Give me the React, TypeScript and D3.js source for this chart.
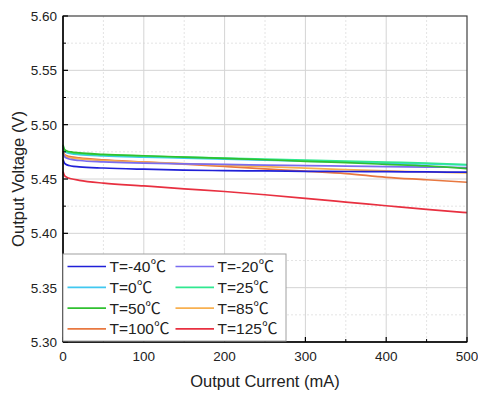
import React from "react";
import * as d3 from "d3";

const currents = [0, 2, 5, 10, 20, 50, 100, 150, 200, 250, 300, 350, 400, 450, 500];
const seriesNames = ["T=-40℃", "T=-20℃", "T=0℃", "T=25℃", "T=50℃", "T=85℃", "T=100℃", "T=125℃"];
const seriesColors = ["#2020d8", "#7a6cf0", "#40c8f0", "#30e890", "#30c030", "#f8b050", "#e87840", "#e83040"];
const vM40 = [5.468, 5.4645, 5.463, 5.462, 5.4612, 5.4601, 5.459, 5.4582, 5.4577, 5.4574, 5.4571, 5.4569, 5.4567, 5.4565, 5.4563];
const vM20 = [5.474, 5.4705, 5.469, 5.468, 5.467, 5.4657, 5.4647, 5.464, 5.4634, 5.4628, 5.4623, 5.4618, 5.4614, 5.461, 5.4606];
const v0 = [5.479, 5.4755, 5.4742, 5.4733, 5.4724, 5.4712, 5.4701, 5.4692, 5.4683, 5.4674, 5.4665, 5.4656, 5.4647, 5.4638, 5.463];
const v25 = [5.4805, 5.4765, 5.4752, 5.4743, 5.4734, 5.4722, 5.471, 5.4701, 5.4692, 5.4683, 5.4674, 5.4665, 5.4656, 5.4647, 5.4632];
const v50 = [5.4815, 5.477, 5.4758, 5.4749, 5.474, 5.4727, 5.4714, 5.4702, 5.469, 5.4677, 5.4663, 5.465, 5.4635, 5.462, 5.4595];
const v85 = [5.475, 5.4715, 5.4703, 5.4694, 5.4685, 5.467, 5.4655, 5.4642, 5.4628, 5.4614, 5.46, 5.4587, 5.4575, 5.4565, 5.4555];
const v100 = [5.476, 5.4725, 5.4713, 5.4704, 5.4695, 5.4677, 5.4657, 5.4637, 5.4615, 5.4593, 5.4572, 5.455, 5.4515, 5.4493, 5.447];
const v125 = [5.457, 5.453, 5.4515, 5.4502, 5.4488, 5.4462, 5.4436, 5.441, 5.4385, 5.4355, 5.4322, 5.4288, 5.4254, 5.422, 5.419];
const seriesValues = [vM40, vM20, v0, v25, v50, v85, v100, v125];
const drawOrder = [6, 5, 7, 0, 1, 2, 3, 4];
const xTicks = [0, 100, 200, 300, 400, 500];
const yTicks = [5.3, 5.35, 5.4, 5.45, 5.5, 5.55, 5.6];

export default function App() {
  const W = 478, H = 394;
  const L = 63, R = 467, T = 16, B = 342;
  const x = d3.scaleLinear().domain([0, 500]).range([L, R]);
  const y = d3.scaleLinear().domain([5.3, 5.6]).range([B, T]);
  const line = d3.line<number>().x((_, i) => x(currents[i])).y((d) => y(d)).curve(d3.curveMonotoneX);
  const xMinor = d3.range(50, 500, 100);
  const yMinor = d3.range(5.325, 5.6, 0.05);
  const font = "'Liberation Sans', Arial, sans-serif";
  const cjk = "'Noto Sans CJK SC', sans-serif";
  const legX0 = 63, legY0 = 254, legW = 223, legH = 87;
  const rowY = (r: number) => 266.5 + r * 20.8;
  return (
    <svg width={W} height={H} style={{ position: "absolute", left: 0, top: 0 }} fontFamily={font}>
      <rect x={0} y={0} width={W} height={H} fill="#fff" />
      {xMinor.map((v) => (
        <line key={"xm" + v} x1={x(v)} x2={x(v)} y1={T} y2={B} stroke="#e4e4e4" strokeWidth={1} strokeDasharray="2,2" />
      ))}
      {yMinor.map((v) => (
        <line key={"ym" + v} x1={L} x2={R} y1={y(v)} y2={y(v)} stroke="#e4e4e4" strokeWidth={1} strokeDasharray="2,2" />
      ))}
      {xTicks.slice(1, -1).map((v) => (
        <line key={"xg" + v} x1={x(v)} x2={x(v)} y1={T} y2={B} stroke="#d4d4d4" strokeWidth={1} />
      ))}
      {yTicks.slice(1, -1).map((v) => (
        <line key={"yg" + v} x1={L} x2={R} y1={y(v)} y2={y(v)} stroke="#d4d4d4" strokeWidth={1} />
      ))}
      {drawOrder.map((k) => (
        <path key={"s" + k} d={line(seriesValues[k]) || ""} fill="none" stroke={seriesColors[k]} strokeWidth={1.7} />
      ))}
      <rect x={L} y={T} width={R - L} height={B - T} fill="none" stroke="#404040" strokeWidth={1.2} />
      <line x1={L} x2={L} y1={T} y2={B} stroke="#000" strokeWidth={1.5} />
      <line x1={L} x2={R} y1={B} y2={B} stroke="#000" strokeWidth={1.5} />
      {yTicks.map((v) => (
        <g key={"yt" + v}>
          <line x1={L} x2={L + 5} y1={y(v)} y2={y(v)} stroke="#000" strokeWidth={1.2} />
          <text x={L - 6} y={y(v)} dy="0.36em" textAnchor="end" fontSize={13.5} fill="#222">{v.toFixed(2)}</text>
        </g>
      ))}
      {yMinor.map((v) => (
        <line key={"ymt" + v} x1={L} x2={L + 3} y1={y(v)} y2={y(v)} stroke="#000" strokeWidth={1} />
      ))}
      {xTicks.map((v) => (
        <g key={"xt" + v}>
          <line x1={x(v)} x2={x(v)} y1={B} y2={B - 5} stroke="#000" strokeWidth={1.2} />
          <text x={x(v)} y={B + 19} textAnchor="middle" fontSize={13.5} fill="#222">{v}</text>
        </g>
      ))}
      {xMinor.map((v) => (
        <line key={"xmt" + v} x1={x(v)} x2={x(v)} y1={B} y2={B - 3} stroke="#000" strokeWidth={1} />
      ))}
      <text x={(L + R) / 2} y={387} textAnchor="middle" fontSize={16.5} fill="#222">Output Current (mA)</text>
      <text transform={`translate(24, ${(T + B) / 2}) rotate(-90)`} textAnchor="middle" fontSize={16.5} fill="#222">Output Voltage (V)</text>
      <rect x={legX0} y={legY0} width={legW} height={legH} fill="#fff" stroke="#a0a0a0" strokeWidth={1} />
      {seriesNames.map((name, i) => {
        const col = i % 2;
        const row = Math.floor(i / 2);
        const lx = col === 0 ? 67.5 : 175.5;
        const ly = rowY(row);
        const base = name.replace("℃", "");
        return (
          <g key={"lg" + i}>
            <line x1={lx} x2={lx + 38.5} y1={ly} y2={ly} stroke={seriesColors[i]} strokeWidth={1.7} />
            <text x={lx + 42} y={ly} dy="0.36em" fontSize={15.5} fill="#222">
              {base}
              <tspan fontFamily={cjk} fontSize={15.5}>℃</tspan>
            </text>
          </g>
        );
      })}
    </svg>
  );
}
